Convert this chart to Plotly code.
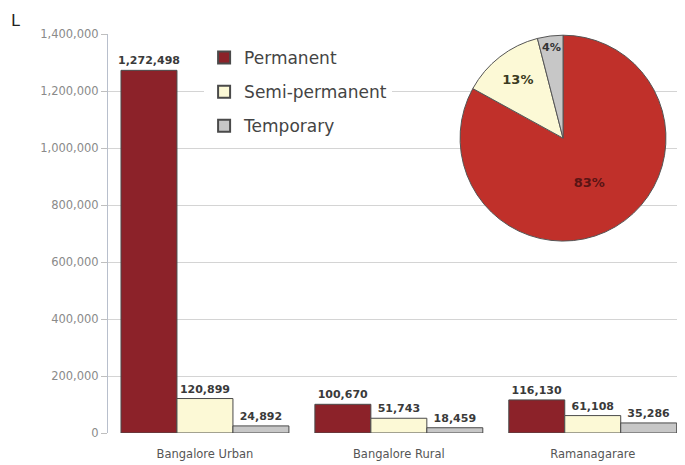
import plotly.graph_objects as go

categories = ["Bangalore Urban", "Bangalore Rural", "Ramanagarare"]
permanent = [1272498, 100670, 116130]
semi_permanent = [120899, 51743, 61108]
temporary = [24892, 18459, 35286]
y_ticks = [0, 200000, 400000, 600000, 800000, 1000000, 1200000, 1400000]
pie_labels = ["Permanent", "Semi-permanent", "Temporary"]
pie_values = [83, 13, 4]

font = "DejaVu Sans, Verdana, sans-serif"
bold_font = "DejaVu Sans, Verdana, sans-serif"
bar_red = "#8c2229"
cream = "#fcf9d6"
grey = "#c7c7c7"
outline = "#4a4a4a"

def fmt(v):
    return f"{v:,}"

fig = go.Figure()
for name, vals, col, grp in [("Permanent", permanent, bar_red, "a"),
                             ("Semi-permanent", semi_permanent, cream, "b"),
                             ("Temporary", temporary, grey, "c")]:
    fig.add_trace(go.Bar(
        x=categories, y=vals, name=name, legendgroup=grp,
        marker=dict(color=col, line=dict(color=outline, width=1)),
        text=[f"<b>{fmt(v)}</b>" for v in vals], textposition="outside", textangle=0,
        constraintext="none",
        textfont=dict(family=bold_font, size=11, color="#3a3a3a"),
        cliponaxis=False,
    ))

fig.add_trace(go.Pie(
    labels=pie_labels, values=pie_values, sort=False, direction="clockwise",
    rotation=0, showlegend=False,
    marker=dict(colors=["#c0302a", cream, grey], line=dict(color="#555555", width=1)),
    texttemplate="<b>%{percent:.0%}</b>",
    textposition="inside", insidetextorientation="horizontal",
    textfont=dict(family=bold_font, size=13, color=["#5a1414", "#3a3a20", "#333333"]),
    domain=dict(x=[0.615, 0.976], y=[0.481, 0.997]),
))

fig.update_layout(
    width=685, height=465,
    margin=dict(l=100, r=13, t=26, b=40),
    paper_bgcolor="white", plot_bgcolor="white",
    barmode="group", bargap=0.134, bargroupgap=0,
    font=dict(family=font, color="#555555"),
    showlegend=True,
    legend=dict(x=0.168, y=0.985, xanchor="left", yanchor="top",
                bgcolor="white", font=dict(family=font, size=17, color="#444444"),
                tracegroupgap=9, itemsizing="constant"),
    xaxis=dict(range=[-0.5, 2.45], showgrid=False, showline=False,
               tickfont=dict(family=font, size=11.5, color="#555555"), ticks="",
               ticklabelstandoff=12),
    yaxis=dict(range=[0, 1400000], tickvals=y_ticks,
               ticktext=[fmt(v) for v in y_ticks],
               showgrid=True, gridcolor="#d4d4d4", gridwidth=1,
               showline=True, linecolor="#b8bfcc", linewidth=1,
               ticks="outside", ticklen=6, tickcolor="#bfbfbf",
               tickfont=dict(family=font, size=11.5, color="#8a8a8a"),
               zeroline=False),
    annotations=[dict(text="L", x=-0.173, y=1.033, xref="paper", yref="paper",
                      showarrow=False, xanchor="left", yanchor="middle",
                      font=dict(family=font, size=16, color="#222222"))],
)

fig.write_html("out.html")
